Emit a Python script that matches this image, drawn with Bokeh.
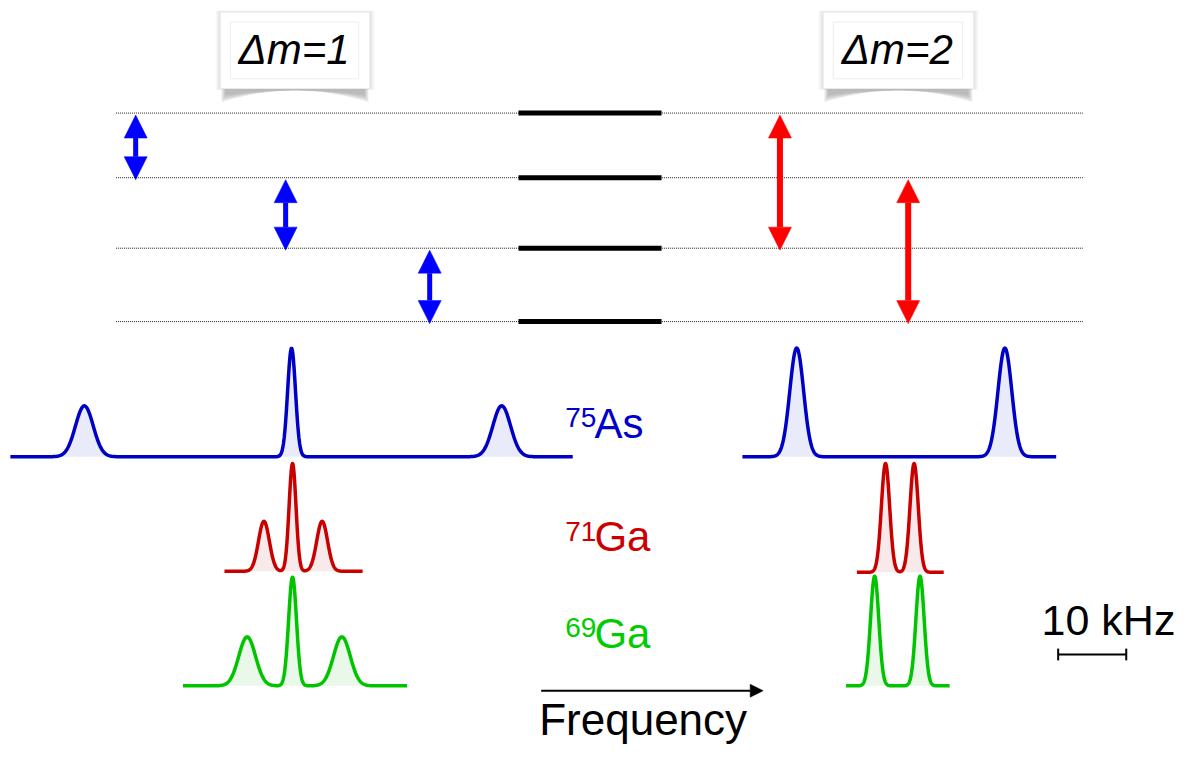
import numpy as np
from bokeh.plotting import figure
from bokeh.models import Range1d, Arrow, NormalHead
from bokeh.core.properties import value
from bokeh.embed import file_html
from bokeh.resources import INLINE

FONT = value("Liberation Sans")

# ---------------- data (schematic units) ----------------
level_y = [115, 181, 253, 328]          # energy levels
level_x = [525, 670]                    # thick level bars
guide_x = [117, 1097]                   # dotted guide lines

dm1_x = [137, 289, 435]                 # Δm=1 transitions
dm1_from = [0, 1, 2]
dm1_to = [1, 2, 3]
dm2_x = [790, 920]                      # Δm=2 transitions
dm2_from = [0, 1]
dm2_to = [2, 3]

box_labels = ["Δm=1", "Δm=2"]
box_left = [223, 834]
box_right = [374, 986]
box_top = [12, 12]
box_bottom = [90, 90]

# spectra: peak centres, heights, widths; baseline and extent
as_l_c = [85, 295, 508];  as_l_h = [52, 111, 52];  as_l_w = [9, 4, 9]
as_l_base = 466; as_l_span = [10, 580]
as_r_c = [807, 1018];     as_r_h = [111, 111];     as_r_w = [7, 7]
as_r_base = 466; as_r_span = [752, 1070]
ga71_l_c = [267, 296, 326]; ga71_l_h = [51, 110, 51]; ga71_l_w = [5.5, 3.5, 5.5]
ga71_l_base = 583; ga71_l_span = [227, 367]
ga71_r_c = [897, 926];    ga71_r_h = [111, 111];   ga71_r_w = [4.2, 4.2]
ga71_r_base = 584; ga71_r_span = [868, 956]
ga69_l_c = [250, 296, 346]; ga69_l_h = [50, 111, 50]; ga69_l_w = [8.5, 4, 8.5]
ga69_l_base = 700; ga69_l_span = [185, 412]
ga69_r_c = [886, 932];    ga69_r_h = [112, 112];   ga69_r_w = [4.2, 4.2]
ga69_r_base = 700; ga69_r_span = [857, 962]

nuclei = ["75", "71", "69"]
nuclei_sym = ["As", "Ga", "Ga"]
nuclei_base = [447, 563, 662]

freq_arrow_x = [548, 773]
freq_arrow_y = 705
scale_x = [1072, 1141]
scale_y = 668
scale_label = "10 kHz"

BLUE_ARROW = "#0000ff"
RED_ARROW = "#ff0000"
C_AS = "#0000c4"
C_G71 = "#c80000"
C_G69 = "#00c400"

# ---------------- figure ----------------
W, H = 1181, 747
p = figure(width=W, height=H, x_range=Range1d(0, 1197), y_range=Range1d(763, 0),
           output_backend="svg", toolbar_location=None, min_border=0,
           x_axis_location=None, y_axis_location=None)
p.grid.visible = False
p.outline_line_color = None
p.background_fill_color = "white"
p.border_fill_color = "white"


def label(x, baseline, txt, size, color="black", align="left", style="normal"):
    # place text so that its alphabetic baseline sits at `baseline`
    p.text(x=[x], y=[baseline - 0.36 * size], text=[txt], text_font=FONT,
           text_font_size=f"{size}px", text_font_style=style, text_align=align,
           text_baseline="middle", text_color=color)


# label boxes with soft shadows
for l, r, t, b, lab in zip(box_left, box_right, box_top, box_bottom, box_labels):
    for k in range(1, 6):
        p.quad(left=l - k, right=r + k, top=t - k * 0.4, bottom=b + k * 0.3,
               fill_color="black", fill_alpha=0.022, line_color=None)
    for k in range(5):
        tt = np.linspace(-1, 1, 60)
        xs = (l + 1 + k) + (tt + 1) / 2 * (r - l - 2 - 2 * k)
        ys_bot = b + 2 + (12 - 1.8 * k) * tt ** 2
        px = list(xs) + list(xs[::-1])
        py = list(ys_bot) + [b - 5] * len(xs)
        p.patch(px, py, fill_color="#777777", fill_alpha=0.12, line_color=None)
    p.quad(left=l, right=r, top=t, bottom=b, fill_color="white", line_color="#eeeeee")
    p.quad(left=l + 10, right=r - 11, top=t + 10, bottom=b - 10,
           fill_color="white", line_color="#eeeeee", line_width=1)
    label((l + r) / 2 - 1, 65, lab, 42, align="center", style="italic")

# dotted guides and level bars
for y in level_y:
    p.line(guide_x, [y, y], line_color="#222222", line_width=1, line_dash="1 1")
    p.line(level_x, [y, y], line_color="black", line_width=5)


# transition arrows
def dbl_arrow(x, y0, y1, color, lw):
    p.add_layout(Arrow(x_start=x, y_start=y0, x_end=x, y_end=y1, line_color=color, line_width=lw,
                       start=NormalHead(size=23, fill_color=color, line_color=color, line_width=0.5),
                       end=NormalHead(size=23, fill_color=color, line_color=color, line_width=0.5)))


for x, a, b in zip(dm1_x, dm1_from, dm1_to):
    dbl_arrow(x, level_y[a] + 2, level_y[b] + 2, BLUE_ARROW, 5)
for x, a, b in zip(dm2_x, dm2_from, dm2_to):
    dbl_arrow(x, level_y[a] + 2, level_y[b] + 2, RED_ARROW, 6)


# spectra
def spectrum(cs, hs, ws, base, span, color, fill):
    x = np.linspace(span[0], span[1], 800)
    y = np.zeros_like(x)
    for c, h, w in zip(cs, hs, ws):
        y += h * np.exp(-0.5 * ((x - c) / w) ** 2)
    yy = base - y
    p.varea(x=x, y1=np.full_like(x, base), y2=yy, fill_color=fill)
    p.line(x, yy, line_color=color, line_width=3.5, line_join="round")


spectrum(as_l_c, as_l_h, as_l_w, as_l_base, as_l_span, C_AS, "#e9ebfb")
spectrum(as_r_c, as_r_h, as_r_w, as_r_base, as_r_span, C_AS, "#e9ebfb")
spectrum(ga71_l_c, ga71_l_h, ga71_l_w, ga71_l_base, ga71_l_span, C_G71, "#f8eaea")
spectrum(ga71_r_c, ga71_r_h, ga71_r_w, ga71_r_base, ga71_r_span, C_G71, "#f8eaea")
spectrum(ga69_l_c, ga69_l_h, ga69_l_w, ga69_l_base, ga69_l_span, C_G69, "#e9f8e9")
spectrum(ga69_r_c, ga69_r_h, ga69_r_w, ga69_r_base, ga69_r_span, C_G69, "#e9f8e9")

# nucleus labels
label_cols = ["#0000cc", "#cc0000", "#00cc00"]
for iso, sym, yb, col in zip(nuclei, nuclei_sym, nuclei_base, label_cols):
    label(604, yb - 11, iso, 28, color=col, align="right")
    label(602, yb, sym, 42, color=col)

# frequency arrow
p.add_layout(Arrow(x_start=freq_arrow_x[0], y_start=freq_arrow_y, x_end=freq_arrow_x[1], y_end=freq_arrow_y,
                   line_color="black", line_width=2,
                   end=NormalHead(size=13, fill_color="black", line_color="black", line_width=0.5)))
label(546, 750, "Frequency", 44)

# scale bar
p.line(scale_x, [scale_y, scale_y], line_color="black", line_width=2)
for sx in scale_x:
    p.line([sx, sx], [scale_y - 6, scale_y + 6], line_color="black", line_width=2)
label(1123, 648, scale_label, 43, align="center")

open("out.html", "w").write(file_html(p, INLINE))
